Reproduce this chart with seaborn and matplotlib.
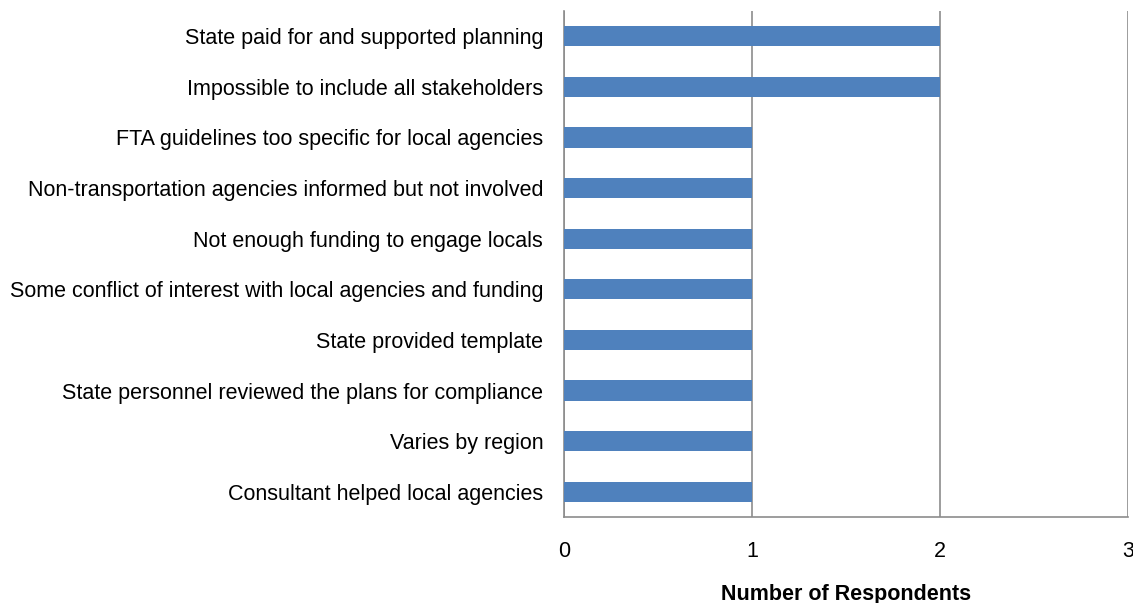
import matplotlib
matplotlib.use("Agg")
import matplotlib.pyplot as plt
import seaborn as sns
import pandas as pd

categories = [
    "State paid for and supported planning",
    "Impossible to include all stakeholders",
    "FTA guidelines too specific for local agencies",
    "Non-transportation agencies informed but not involved",
    "Not enough funding to engage locals",
    "Some conflict of interest with local agencies and funding",
    "State provided template",
    "State personnel reviewed the plans for compliance",
    "Varies by region",
    "Consultant helped local agencies",
]
respondents = [2, 2, 1, 1, 1, 1, 1, 1, 1, 1]
x_ticks = [0, 1, 2, 3]

sns.set_theme(style="white")
plt.rcParams["font.family"] = ["Liberation Sans", "DejaVu Sans"]

df = pd.DataFrame({"Response": categories, "Count": respondents})

fig = plt.figure(figsize=(11.33, 6.03), dpi=100)
ax = fig.add_axes([0.4978, 0.1426, 0.4978, 0.8392])

sns.barplot(data=df, y="Response", x="Count", orient="h", color="#4F81BD",
            saturation=1, width=0.4, linewidth=0, ax=ax, zorder=3)

ax.set_xlim(0, 3)
ax.set_ylim(len(categories) - 0.5, -0.5)
ax.set_xticks(x_ticks)
ax.set_xticklabels([str(t) for t in x_ticks])
ax.xaxis.grid(True, color="#8C8C8C", linewidth=1.2, zorder=0)
ax.yaxis.grid(False)
ax.tick_params(axis="x", length=0, pad=17, labelsize=15.5, colors="black")
ax.tick_params(axis="y", length=0, pad=15, labelsize=15.5, colors="black")

for side in ["top", "right"]:
    ax.spines[side].set_visible(False)
for side in ["left", "bottom"]:
    ax.spines[side].set_color("#8C8C8C")
    ax.spines[side].set_linewidth(1.2)

ax.set_ylabel("")
ax.set_xlabel("Number of Respondents", fontsize=15.5, fontweight="bold",
              color="black", labelpad=16)

fig.savefig("out.png", dpi=100)
